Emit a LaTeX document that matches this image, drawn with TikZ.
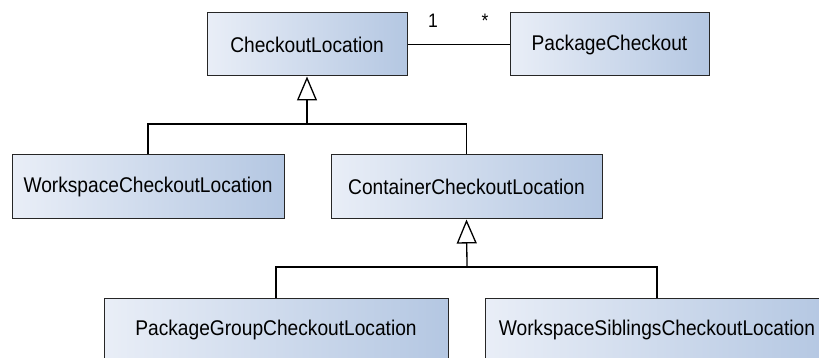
\documentclass[tikz,border=0pt]{standalone}
\usepackage{fontspec}
\setmainfont{Liberation Sans}[FakeStretch=0.9]
\usetikzlibrary{arrows.meta}
\definecolor{boxL}{RGB}{233,238,247}
\definecolor{boxR}{RGB}{180,199,226}
\tikzset{
  cls/.style={draw=black!85, line width=1pt, left color=boxL, right color=boxR,
    inner sep=0pt, font=\fontsize{21.3}{24}\selectfont},
  link/.style={line width=1.3pt, black},
  inherit/.style={link, -{Triangle[open, length=24pt, width=20pt, line width=1.3pt]}},
  mult/.style={font=\fontsize{19.5}{22}\selectfont, inner sep=0pt}
}
\begin{document}
\begin{tikzpicture}[x=1pt, y=-1pt]
  \useasboundingbox (0,0) rectangle (819,358);
  \clip (0,0) rectangle (819,358);
  % class boxes
  \node[cls, minimum width=200pt, minimum height=63pt] (CL)   at (307,44.5)  {CheckoutLocation};
  \node[cls, minimum width=199pt, minimum height=63pt] (PC)   at (609.5,44.5) {PackageCheckout};
  \node[cls, minimum width=272pt, minimum height=64pt] (WCL)  at (148,187)   {WorkspaceCheckoutLocation};
  \node[cls, minimum width=271pt, minimum height=64pt] (CCL)  at (466.5,187) {ContainerCheckoutLocation};
  \node[cls, minimum width=344pt, minimum height=64pt] (PGCL) at (276,330)   {PackageGroupCheckoutLocation};
  \node[cls, minimum width=344pt, minimum height=64pt] (WSCL) at (657,330)   {WorkspaceSiblingsCheckoutLocation};
  % association with multiplicities
  \draw[link] (CL.east) -- (PC.west);
  \node[mult] (m1) at (433,21) {1};
  \node[mult] (m2) at (485,21) {*};
  % generalisation trees
  \coordinate (j1) at (307,124);
  \coordinate (j2) at (467,267);
  \draw[link] (WCL.north) |- (j1) -| (CCL.north);
  \draw[inherit] (j1) -- (CL.south);
  \draw[link] (PGCL.north) |- (j2) -| (WSCL.north);
  \draw[inherit] (j2) -- (CCL.south);
\end{tikzpicture}
\end{document}
